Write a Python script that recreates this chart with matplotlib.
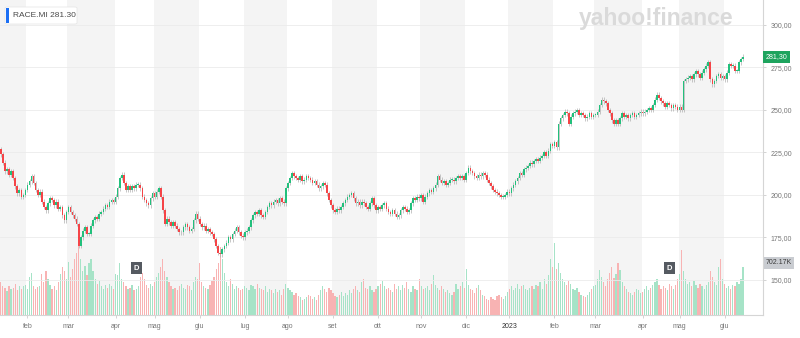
import numpy as np
import pandas as pd
import matplotlib
matplotlib.use("Agg")
import matplotlib.pyplot as plt
from matplotlib.patches import Rectangle, FancyBboxPatch
from matplotlib.transforms import blended_transform_factory

# ---------------- data ----------------
ticker = "RACE.MI"
start_date = "2022-01-13"
holidays = ["2022-04-15", "2022-04-18", "2022-08-15", "2022-12-26",
            "2023-04-07", "2023-04-10", "2023-05-01"]
first_open = 227.0

closes = [
    224, 219, 214, 215, 212, 214, 210, 205, 201, 203,
    199, 200, 203, 206, 208, 211, 207, 203, 200, 202,
    196, 193, 191, 195, 198, 197, 194, 196, 192, 193,
    188, 185, 190, 193, 190, 188, 186, 183, 170, 175,
    179, 181, 177, 177, 182, 185, 187, 186, 189, 190,
    192, 194, 193, 196, 197, 196, 199, 204, 210, 212,
    207, 203, 205, 203, 205, 204, 206, 206, 204, 199,
    197, 195, 194, 198, 201, 199, 202, 204, 199, 191,
    183, 186, 184, 182, 184, 182, 180, 178, 178, 181,
    183, 181, 179, 180, 185, 189, 186, 183, 181, 182,
    179, 180, 178, 177, 174, 170, 166, 165, 168, 170,
    172, 175, 174, 177, 179, 181, 178, 176, 175, 178,
    179, 181, 185, 188, 190, 189, 191, 188, 187, 190,
    193, 195, 194, 196, 197, 195, 198, 196, 195, 204,
    207, 210, 213, 211, 210, 209, 211, 208, 209, 211,
    210, 209, 207, 208, 206, 204, 205, 207, 206, 201,
    197, 194, 191, 190, 192, 191, 193, 195, 197, 199,
    200, 201, 198, 195, 196, 194, 196, 195, 193, 192,
    195, 198, 194, 191, 193, 192, 194, 195, 192, 190,
    189, 191, 189, 187, 188, 191, 193, 192, 190, 191,
    195, 198, 197, 199, 198, 200, 196, 199, 201, 203,
    202, 204, 206, 211, 209, 207, 208, 206, 207, 209,
    209, 208, 210, 211, 210, 211, 209, 213, 216, 214,
    213, 211, 210, 212, 211, 213, 212, 209, 207, 205,
    203, 202, 201, 200, 199, 199, 200, 202, 201, 204,
    206, 208, 210, 213, 212, 215, 216, 217, 219, 218,
    220, 221, 220, 222, 223, 225, 223, 226, 230, 229,
    231, 228, 242, 245, 247, 249, 248, 242, 246, 248,
    249, 250, 247, 248, 247, 245, 246, 248, 246, 247,
    247, 249, 253, 256, 255, 254, 250, 248, 244, 242,
    244, 242, 245, 248, 246, 247, 245, 247, 248, 246,
    247, 248, 249, 248, 249, 250, 251, 250, 253, 256,
    259, 257, 255, 254, 252, 254, 253, 251, 253, 252,
    250, 252, 250, 267, 268, 269, 270, 268, 271, 273,
    271, 269, 272, 274, 276, 278, 268, 265, 267, 270,
    271, 269, 270, 268, 272, 277, 276, 276, 273, 273,
    278, 280, 281.3,
]

volumes_k = [
    480, 420, 390, 350, 420, 380, 400, 450, 360, 430,
    380, 420, 440, 380, 560, 620, 420, 380, 410, 430,
    600, 480, 650, 520, 440, 380, 420, 360, 480, 600,
    700, 640, 520, 780, 560, 680, 820, 900, 1050, 820,
    650, 720, 580, 760, 820, 640, 520, 460, 500, 420,
    380, 440, 400, 460, 420, 380, 600, 580, 760, 520,
    480, 420, 380, 400, 440, 360, 380, 420, 560, 620,
    520, 440, 400, 460, 420, 480, 560, 620, 700, 820,
    640, 560, 480, 420, 380, 400, 360, 420, 460, 400,
    380, 440, 420, 360, 480, 560, 520, 760, 480, 420,
    400, 380, 440, 500, 560, 680, 760, 1000, 820, 620,
    480, 420, 520, 460, 380, 420, 400, 360, 380, 420,
    400, 360, 440, 420, 380, 460, 400, 380, 360, 420,
    340, 380, 360, 320, 380, 340, 360, 300, 380, 460,
    400, 360, 340, 300, 320, 280, 260, 220, 240, 260,
    300, 280, 240, 260, 220, 300, 360, 420, 380, 340,
    400, 360, 320, 280, 260, 300, 340, 280, 320, 300,
    360, 320, 380, 420, 360, 340, 480, 520, 400, 380,
    420, 360, 340, 380, 420, 460, 500, 420, 380, 400,
    360, 340, 460, 380, 420, 360, 440, 400, 480, 380,
    340, 420, 380, 360, 520, 420, 380, 400, 420, 360,
    460, 580, 440, 400, 360, 420, 380, 340, 360, 320,
    300, 340, 460, 380, 420, 480, 400, 680, 440, 380,
    360, 320, 400, 440, 360, 300, 280, 240, 220, 260,
    240, 220, 280, 300, 260, 240, 280, 340, 380, 420,
    360, 400, 460, 380, 420, 440, 380, 360, 400, 420,
    380, 440, 420, 480, 380, 520, 460, 580, 820, 700,
    1050, 680, 760, 620, 520, 480, 440, 500, 460, 380,
    360, 400, 340, 300, 280, 260, 300, 340, 380, 420,
    440, 520, 660, 560, 480, 420, 520, 620, 700, 540,
    600, 760, 660, 480, 420, 380, 340, 320, 300, 340,
    380, 360, 320, 340, 380, 420, 360, 400, 440, 480,
    520, 440, 380, 420, 400, 360, 460, 420, 380, 440,
    520, 600, 950, 640, 520, 460, 480, 420, 500, 440,
    400, 460, 420, 380, 440, 480, 640, 560, 480, 440,
    700, 820, 520, 460, 400, 420, 380, 440, 420, 480,
    460, 520, 702.17,
]

dividend_dates = ["2022-04-19", "2023-04-24"]
month_names = ["gen", "feb", "mar", "apr", "mag", "giu",
               "lug", "ago", "set", "ott", "nov", "dic"]
price_ticks = [150, 175, 200, 225, 250, 275, 300]
last_price_label = "281,30"
last_volume_label = "702.17K"
header_text = "RACE.MI 281.30"

# ---------------- derived ----------------
c = np.array(closes, dtype=float)
o = np.r_[first_open, c[:-1]]
v = np.array(volumes_k, dtype=float)
n = len(c)
x = np.arange(n)
dates = pd.bdate_range(start=start_date, periods=n, freq="C", holidays=holidays)
up = c >= o
hi = np.maximum(o, c) + 1.4
lo = np.minimum(o, c) - 1.4

GREEN = "#22c07c"
RED = "#f54447"
VGREEN = "#a6e3c7"
VRED = "#f8b3b3"
BAND = "#f4f4f4"

fig = plt.figure(figsize=(8.0, 3.38), dpi=100)
pos = [0.0, 0.068, 0.954, 0.932]
ax_vol = fig.add_axes(pos, zorder=1)
ax = fig.add_axes(pos, zorder=2)
ax.patch.set_alpha(0)

xmin, xmax = -0.4, n - 1 + 9.8
for a in (ax, ax_vol):
    a.set_xlim(xmin, xmax)

# month bands
months = dates.to_period("M")
starts = [0] + [i for i in range(1, n) if months[i] != months[i - 1]]
for k, s in enumerate(starts):
    e = starts[k + 1] - 0.5 if k + 1 < len(starts) else xmax
    left = s - 0.5 if s > 0 else xmin
    if dates[s].month % 2 == 1:
        ax_vol.axvspan(left, e, color=BAND, lw=0, zorder=0)

# volume
ax_vol.bar(x, v, width=0.6, color=np.where(up, VGREEN, VRED), linewidth=0, zorder=1)
ax_vol.set_ylim(0, 4607)
ax_vol.axis("off")

# price candles
ax.set_ylim(129.4, 314.7)
ax.vlines(x, lo, hi, color="#a8a8a8", lw=0.45, zorder=3)
ax.bar(x, np.maximum(np.abs(c - o), 0.4), bottom=np.minimum(o, c), width=0.78,
       color=np.where(up, GREEN, RED), linewidth=0, zorder=4)

# grid and axes styling
ax.set_yticks(price_ticks)
ax.set_yticklabels([f"{t:.2f}".replace(".", ",") for t in price_ticks])
ax.yaxis.tick_right()
ax.grid(axis="y", color="#ebebeb", lw=0.6, zorder=0)
ax.set_axisbelow(True)
for sp in ("top", "left"):
    ax.spines[sp].set_visible(False)
for sp in ("right", "bottom"):
    ax.spines[sp].set_color("#d5d5d5")
    ax.spines[sp].set_linewidth(0.8)

tick_pos = starts[1:]
tick_lab = [str(dates[s].year) if dates[s].month == 1 else month_names[dates[s].month - 1]
            for s in tick_pos]
ax.set_xticks(tick_pos)
ax.set_xticklabels(tick_lab)
ax.tick_params(axis="both", length=2.5, width=0.6, color="#cccccc",
               labelsize=5.0, labelcolor="#777777", pad=3)
for lab in ax.get_yticklabels() + ax.get_xticklabels():
    lab.set_fontfamily("Liberation Sans")
for lab in ax.get_xticklabels():
    if lab.get_text().isdigit():
        lab.set_color("#333333")

# dividend markers
trans_div = blended_transform_factory(ax_vol.transData, ax_vol.transAxes)
for d in dividend_dates:
    idx = int(np.where(dates == pd.Timestamp(d))[0][0])
    ax_vol.text(idx, 0.149, "D", transform=trans_div, ha="center", va="center",
                fontsize=5.5, color="white", fontweight="bold", family="Liberation Sans",
                bbox=dict(boxstyle="square,pad=0.35", fc="#555a61", ec="none"), zorder=6)

# last price / volume labels
tp = blended_transform_factory(ax.transAxes, ax.transData)
ax.text(1.003, c[-1], last_price_label, transform=tp, ha="left", va="center",
        fontsize=5.1, color="white", family="Liberation Sans", clip_on=False,
        bbox=dict(boxstyle="square,pad=0.35", fc="#1ea45e", ec="none"))
tv = blended_transform_factory(ax_vol.transAxes, ax_vol.transData)
ax_vol.text(1.003, v[-1] + 60, last_volume_label, transform=tv, ha="left", va="center",
            fontsize=5.0, color="#3a3a3a", family="Liberation Sans", clip_on=False,
            bbox=dict(boxstyle="square,pad=0.35", fc="#c9ccd1", ec="none"))

# header box
fig.patches.append(FancyBboxPatch((5 / 800, 1 - 24 / 338), 72 / 800, 17 / 338,
                                  boxstyle="round,pad=0,rounding_size=0.003",
                                  transform=fig.transFigure, fc="white", ec="#e4e4e4",
                                  lw=0.5, zorder=10))
fig.patches.append(Rectangle((6 / 800, 1 - 23 / 338), 3 / 800, 15 / 338,
                             transform=fig.transFigure, fc="#1b6ff5", ec="none", zorder=11))
fig.text(13 / 800, 1 - 15.5 / 338, header_text, ha="left", va="center", fontsize=6,
         color="#4a4a4a", family="Liberation Sans", zorder=12)

# watermark
fig.text(656 / 800, 1 - 18 / 338, "yahoo!finance", ha="center", va="center",
         fontsize=16.5, fontweight="bold", color="#dadada", family="Liberation Sans",
         zorder=12)

fig.savefig("out.png", dpi=100)
